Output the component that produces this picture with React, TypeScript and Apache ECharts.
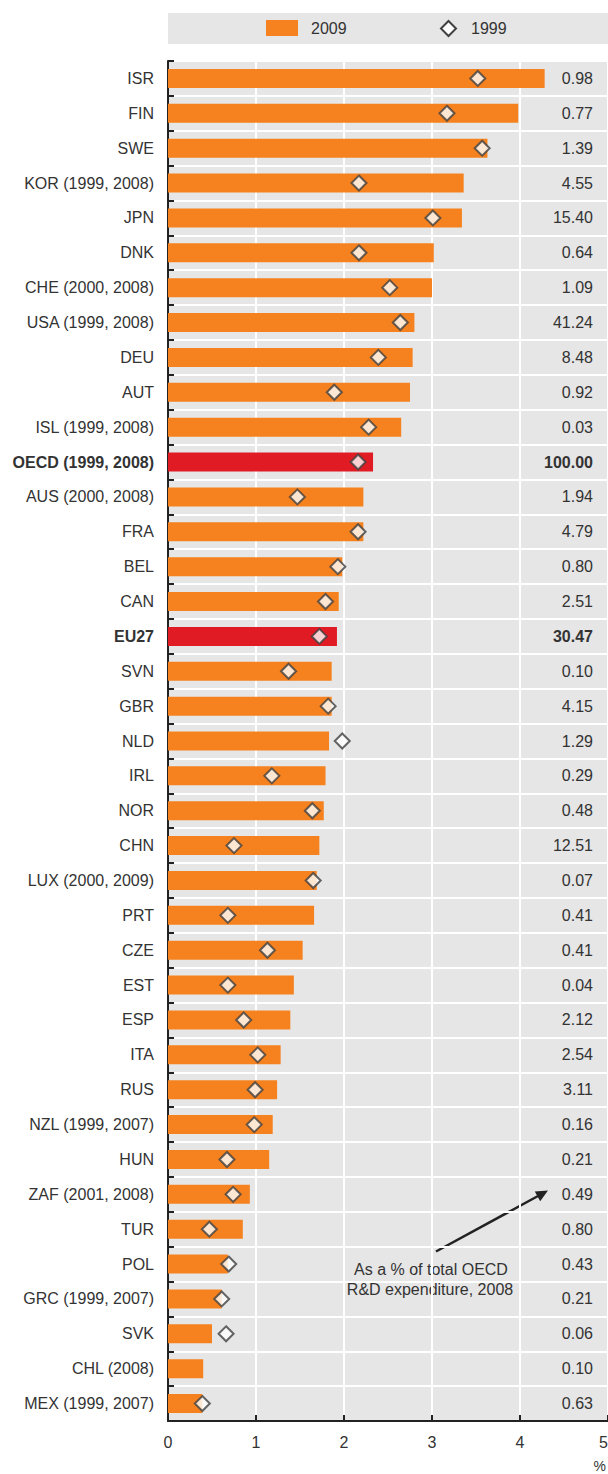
import React, { useEffect, useRef } from "react";
import * as echarts from "echarts";

const categories = [
  "ISR", "FIN", "SWE", "KOR (1999, 2008)", "JPN", "DNK", "CHE (2000, 2008)",
  "USA (1999, 2008)", "DEU", "AUT", "ISL (1999, 2008)", "OECD (1999, 2008)",
  "AUS (2000, 2008)", "FRA", "BEL", "CAN", "EU27", "SVN", "GBR", "NLD", "IRL",
  "NOR", "CHN", "LUX (2000, 2009)", "PRT", "CZE", "EST", "ESP", "ITA", "RUS",
  "NZL (1999, 2007)", "HUN", "ZAF (2001, 2008)", "TUR", "POL", "GRC (1999, 2007)",
  "SVK", "CHL (2008)", "MEX (1999, 2007)",
];

const values2009 = [
  4.28, 3.98, 3.63, 3.36, 3.34, 3.02, 3.0, 2.8, 2.78, 2.75, 2.65, 2.33, 2.22,
  2.22, 1.98, 1.94, 1.92, 1.86, 1.86, 1.83, 1.79, 1.77, 1.72, 1.69, 1.66, 1.53,
  1.43, 1.39, 1.28, 1.24, 1.19, 1.15, 0.93, 0.85, 0.68, 0.61, 0.5, 0.4, 0.39,
];

const values1999: (number | null)[] = [
  3.52, 3.17, 3.57, 2.17, 3.01, 2.17, 2.52, 2.64, 2.39, 1.89, 2.28, 2.16, 1.47,
  2.16, 1.93, 1.79, 1.72, 1.37, 1.82, 1.98, 1.18, 1.64, 0.75, 1.65, 0.68, 1.13,
  0.68, 0.86, 1.02, 0.99, 0.98, 0.67, 0.74, 0.47, 0.69, 0.61, 0.66, null, 0.39,
];

const sharesOfOECD = [
  "0.98", "0.77", "1.39", "4.55", "15.40", "0.64", "1.09", "41.24", "8.48",
  "0.92", "0.03", "100.00", "1.94", "4.79", "0.80", "2.51", "30.47", "0.10",
  "4.15", "1.29", "0.29", "0.48", "12.51", "0.07", "0.41", "0.41", "0.04",
  "2.12", "2.54", "3.11", "0.16", "0.21", "0.49", "0.80", "0.43", "0.21",
  "0.06", "0.10", "0.63",
];

const highlighted = ["OECD (1999, 2008)", "EU27"];
const xTicks = [0, 1, 2, 3, 4, 5];

const FONT = "'Liberation Sans', Arial, sans-serif";
const FS = 16;
const TXT = "#333333";
const ORANGE = "#f5821f";
const RED = "#e01b24";

export default function App() {
  const ref = useRef<HTMLDivElement>(null);
  useEffect(() => {
    if (!ref.current) return;
    const chart = echarts.init(ref.current, undefined, { renderer: "svg" });
    const option = {
      animation: false,
      textStyle: { fontFamily: FONT },
      grid: {
        left: 168,
        top: 61,
        width: 440,
        height: 1360,
        outerBoundsMode: "none",
        containLabel: false,
        show: true,
        backgroundColor: "#e6e6e6",
        borderWidth: 0,
      },
      xAxis: {
        type: "value",
        min: xTicks[0],
        max: xTicks[xTicks.length - 1],
        interval: 1,
        axisLine: { show: true, lineStyle: { color: "#222", width: 2 } },
        axisTick: { show: true, inside: true, length: 6, lineStyle: { color: "#222", width: 2 } },
        splitLine: { show: true, lineStyle: { color: "#ffffff", width: 2 } },
        axisLabel: { color: TXT, fontSize: FS, fontFamily: FONT, margin: 13, alignMaxLabel: "right" },
      },
      yAxis: [
        {
          type: "category",
          data: categories,
          inverse: true,
          axisLine: { show: true, lineStyle: { color: "#222", width: 2 } },
          axisTick: { show: true, inside: true, length: 6, lineStyle: { color: "#222", width: 2 } },
          splitLine: { show: true, lineStyle: { color: "#ffffff", width: 2 } },
          axisLabel: {
            color: TXT,
            fontSize: FS,
            fontFamily: FONT,
            margin: 14,
            formatter: (v: string) => (highlighted.includes(v) ? `{b|${v}}` : v),
            rich: { b: { fontWeight: "bold", fontSize: FS, fontFamily: FONT, color: TXT } },
          },
        },
        {
          type: "category",
          data: sharesOfOECD,
          inverse: true,
          position: "right",
          axisLine: { show: false },
          axisTick: { show: false },
          splitLine: { show: false },
          axisLabel: {
            inside: true,
            color: TXT,
            fontSize: FS,
            fontFamily: FONT,
            margin: 15,
            formatter: (v: string, i: number) =>
              highlighted.includes(categories[i]) ? `{b|${v}}` : v,
            rich: { b: { fontWeight: "bold", fontSize: FS, fontFamily: FONT, color: TXT } },
          },
        },
      ],
      series: [
        {
          name: "2009",
          type: "bar",
          yAxisIndex: 0,
          barWidth: 19,
          data: values2009.map((v, i) => ({
            value: v,
            itemStyle: { color: highlighted.includes(categories[i]) ? RED : ORANGE },
          })),
          z: 2,
        },
        {
          name: "1999",
          type: "scatter",
          yAxisIndex: 0,
          symbol: "diamond",
          symbolSize: 15,
          itemStyle: { color: "#ffffff", borderColor: "#404040", borderWidth: 2 },
          data: values1999.map((v, i) => (v == null ? null : [v, categories[i]])).filter((d) => d !== null),
          z: 5,
        },
      ],
      graphic: [
        { type: "rect", shape: { x: 168, y: 13, width: 440, height: 31 }, style: { fill: "#e6e6e6" } },
        { type: "rect", shape: { x: 266, y: 20, width: 32, height: 16 }, style: { fill: ORANGE } },
        {
          type: "text", x: 311, y: 28.5,
          style: { text: "2009", fill: TXT, font: `${FS}px ${FONT}`, textVerticalAlign: "middle", verticalAlign: "middle" },
        },
        {
          type: "polygon",
          shape: { points: [[448.5, 21], [456, 28.5], [448.5, 36], [441, 28.5]] },
          style: { fill: "#ffffff", stroke: "#404040", lineWidth: 2 },
        },
        {
          type: "text", x: 471, y: 28.5,
          style: { text: "1999", fill: TXT, font: `${FS}px ${FONT}`, textVerticalAlign: "middle", verticalAlign: "middle" },
        },
        {
          type: "line",
          shape: { x1: 436, y1: 1251.5, x2: 538, y2: 1196 },
          style: { stroke: "#222", lineWidth: 2.5 },
        },
        {
          type: "polygon",
          shape: { points: [[548, 1190.5], [540.2, 1201.2], [534.8, 1191.5]] },
          style: { fill: "#222" },
        },
        {
          type: "text", x: 431, y: 1269,
          style: { text: "As a % of total OECD", fill: TXT, font: `${FS}px ${FONT}`, align: "center", textAlign: "center", verticalAlign: "middle", textVerticalAlign: "middle" },
        },
        {
          type: "text", x: 430, y: 1289,
          style: { text: "R&D expenditure, 2008", fill: TXT, font: `${FS}px ${FONT}`, align: "center", textAlign: "center", verticalAlign: "middle", textVerticalAlign: "middle" },
        },
        {
          type: "text", x: 606, y: 1466,
          style: { text: "%", fill: TXT, font: `14px ${FONT}`, align: "right", textAlign: "right", verticalAlign: "middle", textVerticalAlign: "middle" },
        },
      ],
    };
    chart.setOption(option as any);
    return () => chart.dispose();
  }, []);
  return (
    <div
      ref={ref}
      style={{ position: "absolute", left: 0, top: 0, width: 608, height: 1474, background: "#ffffff" }}
    />
  );
}
